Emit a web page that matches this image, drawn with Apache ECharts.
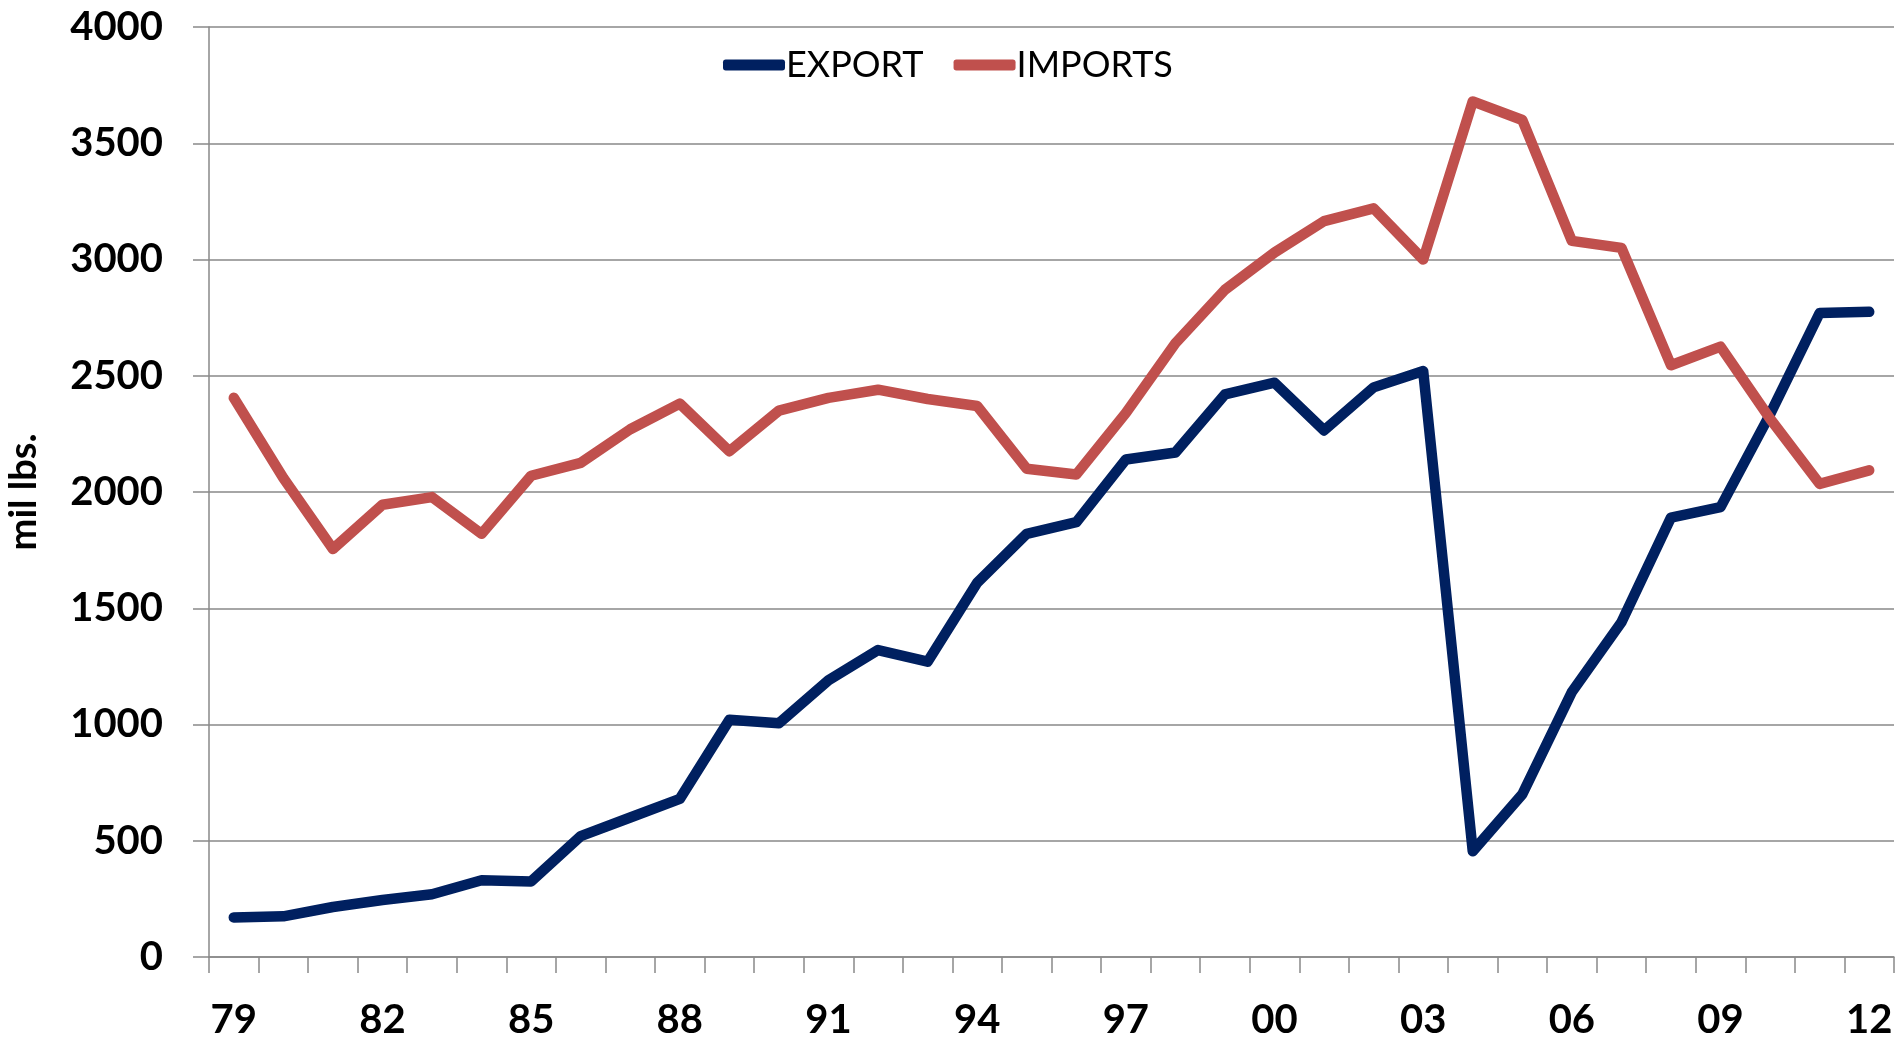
<!DOCTYPE html>
<html>
<head>
<meta charset="utf-8">
<script src="https://cdn.jsdelivr.net/npm/echarts@6/dist/echarts.min.js"></script>
<style>
html,body{margin:0;padding:0;background:#fff;}
#c{width:1899px;height:1038px;}
</style>
</head>
<body>
<div id="c"></div>
<script>
var years = ['79','80','81','82','83','84','85','86','87','88','89','90','91','92','93','94','95','96','97','98','99','00','01','02','03','04','05','06','07','08','09','10','11','12'];
var exportVals = [170,175,215,245,270,330,325,520,600,680,1020,1005,1190,1320,1270,1610,1820,1870,2140,2170,2420,2470,2265,2450,2520,455,700,1140,1440,1890,1935,2335,2770,2775];
var importVals = [2405,2060,1755,1945,1978,1820,2070,2125,2270,2380,2175,2350,2405,2440,2400,2370,2100,2075,2340,2640,2870,3030,3165,3220,3000,3680,3600,3080,3050,2545,2625,2315,2035,2093];
var yTicks = {min:0, max:4000, interval:500};
var seriesNames = ['EXPORT','IMPORTS'];
var colors = ['#002060','#C0504D'];

var chart = echarts.init(document.getElementById('c'));
var fontFam = 'Lato, "Open Sans", sans-serif';
chart.setOption({
  animation:false,
  backgroundColor:'#ffffff',
  color: colors,
  grid:{left:209, right:5, top:27, bottom:81, containLabel:false, outerBoundsMode:'none'},
  legend:{
    left:718, top:42,
    icon:'roundRect', itemWidth:62, itemHeight:11, itemGap:30,
    textStyle:{fontFamily:fontFam, fontSize:36, color:'#000', padding:[0,0,0,-4]},
    data: seriesNames
  },
  xAxis:{
    type:'category', data:years, boundaryGap:true,
    axisLine:{lineStyle:{color:'#898989', width:1.5}},
    axisTick:{show:true, interval:0, length:16, lineStyle:{color:'#898989', width:1.5}},
    axisLabel:{interval:2, margin:43, fontFamily:fontFam, fontWeight:'bold', fontSize:40, color:'#000'},
    splitLine:{show:false}
  },
  yAxis:{
    type:'value', min:yTicks.min, max:yTicks.max, interval:yTicks.interval,
    name:'mil lbs.', nameLocation:'middle', nameRotate:90, nameGap:166,
    nameTextStyle:{fontFamily:fontFam, fontWeight:'bold', fontSize:38, color:'#000'},
    axisLine:{show:true, lineStyle:{color:'#898989', width:1.5}},
    axisTick:{show:true, length:16, lineStyle:{color:'#898989', width:1.5}},
    axisLabel:{margin:46, fontFamily:fontFam, fontWeight:'bold', fontSize:40, color:'#000',
      formatter:function(v){return String(v);}},
    splitLine:{show:true, lineStyle:{color:'#898989', width:1.5}}
  },
  series:[
    {name:seriesNames[0], type:'line', data:exportVals, showSymbol:false, symbol:'none',
     lineStyle:{width:10.5, color:colors[0], cap:'round', join:'round'}},
    {name:seriesNames[1], type:'line', data:importVals, showSymbol:false, symbol:'none',
     lineStyle:{width:10.5, color:colors[1], cap:'round', join:'round'}}
  ]
});
</script>
</body>
</html>
